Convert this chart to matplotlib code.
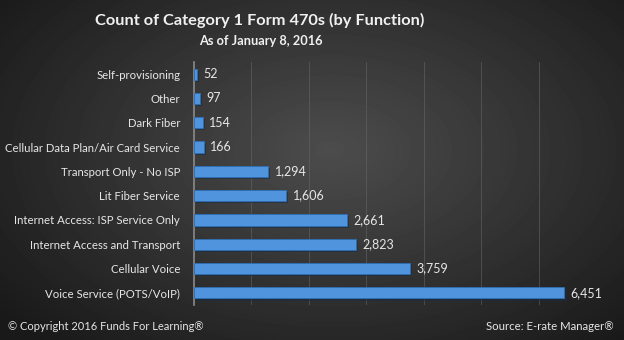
import numpy as np
import matplotlib.pyplot as plt
import matplotlib.patheffects as pe

categories = [
    "Self-provisioning",
    "Other",
    "Dark Fiber",
    "Cellular Data Plan/Air Card Service",
    "Transport Only - No ISP",
    "Lit Fiber Service",
    "Internet Access: ISP Service Only",
    "Internet Access and Transport",
    "Cellular Voice",
    "Voice Service (POTS/VoIP)",
]
counts = [52, 97, 154, 166, 1294, 1606, 2661, 2823, 3759, 6451]

plt.rcParams["font.family"] = ["Lato", "DejaVu Sans"]
txt = "#e6e6e6"

fig = plt.figure(figsize=(6.24, 3.4), dpi=100)

# radial dark-gray backdrop
bg = fig.add_axes([0, 0, 1, 1], zorder=-1)
yy, xx = np.mgrid[0:340, 0:624]
r = np.sqrt(((xx - 330) / 420.0) ** 2 + ((yy - 150) / 260.0) ** 2)
shade = np.clip(0.30 - 0.20 * r, 0.10, 0.30)
bg.imshow(shade, cmap="gray", vmin=0, vmax=1, aspect="auto", extent=[0, 1, 0, 1])
bg.axis("off")

ax = fig.add_axes([194 / 624, 1 - 305 / 340, (596 - 194) / 624, (305 - 62) / 340])
ax.patch.set_alpha(0)

y = np.arange(len(categories))
bars = ax.barh(y, counts, height=0.46, color="#4f94dc", edgecolor="#2d6fb5",
               linewidth=0.6, zorder=3)
for b in bars:
    b.set_path_effects([pe.SimplePatchShadow(offset=(1.5, -1.5), alpha=0.6),
                        pe.Normal()])

for yi, v in zip(y, counts):
    ax.text(v + 110, yi, f"{v:,}", va="center", ha="left", color=txt, fontsize=9)

ax.set_xlim(0, 7000)
ax.set_ylim(len(categories) - 0.5, -0.5)
ax.set_xticks(range(1000, 7001, 1000))
ax.xaxis.grid(True, color="#6a6a6a", linewidth=0.6, alpha=0.6, zorder=0)
ax.tick_params(axis="x", length=0, labelbottom=False)
ax.tick_params(axis="y", length=0, pad=10, labelcolor=txt, labelsize=8.2)
ax.set_yticks(y)
ax.set_yticklabels(categories)
for s in ["top", "right", "bottom"]:
    ax.spines[s].set_visible(False)
ax.spines["left"].set_color("#8a8a8a")
ax.spines["left"].set_linewidth(1.2)

fig.text(260 / 624, 1 - 20 / 340, "Count of Category 1 Form 470s (by Function)",
         ha="center", va="center", color="#f0f0f0", fontsize=11.8, fontweight="bold")
fig.text(261 / 624, 1 - 41 / 340, "As of January 8, 2016",
         ha="center", va="center", color="#f0f0f0", fontsize=9.2, fontweight="bold")
fig.text(8 / 624, 1 - 327 / 340, "\u00a9 Copyright 2016 Funds For Learning\u00ae",
         ha="left", va="center", color=txt, fontsize=8)
fig.text(614 / 624, 1 - 327 / 340, "Source: E-rate Manager\u00ae",
         ha="right", va="center", color=txt, fontsize=8.2)

fig.savefig("out.png", dpi=100)
